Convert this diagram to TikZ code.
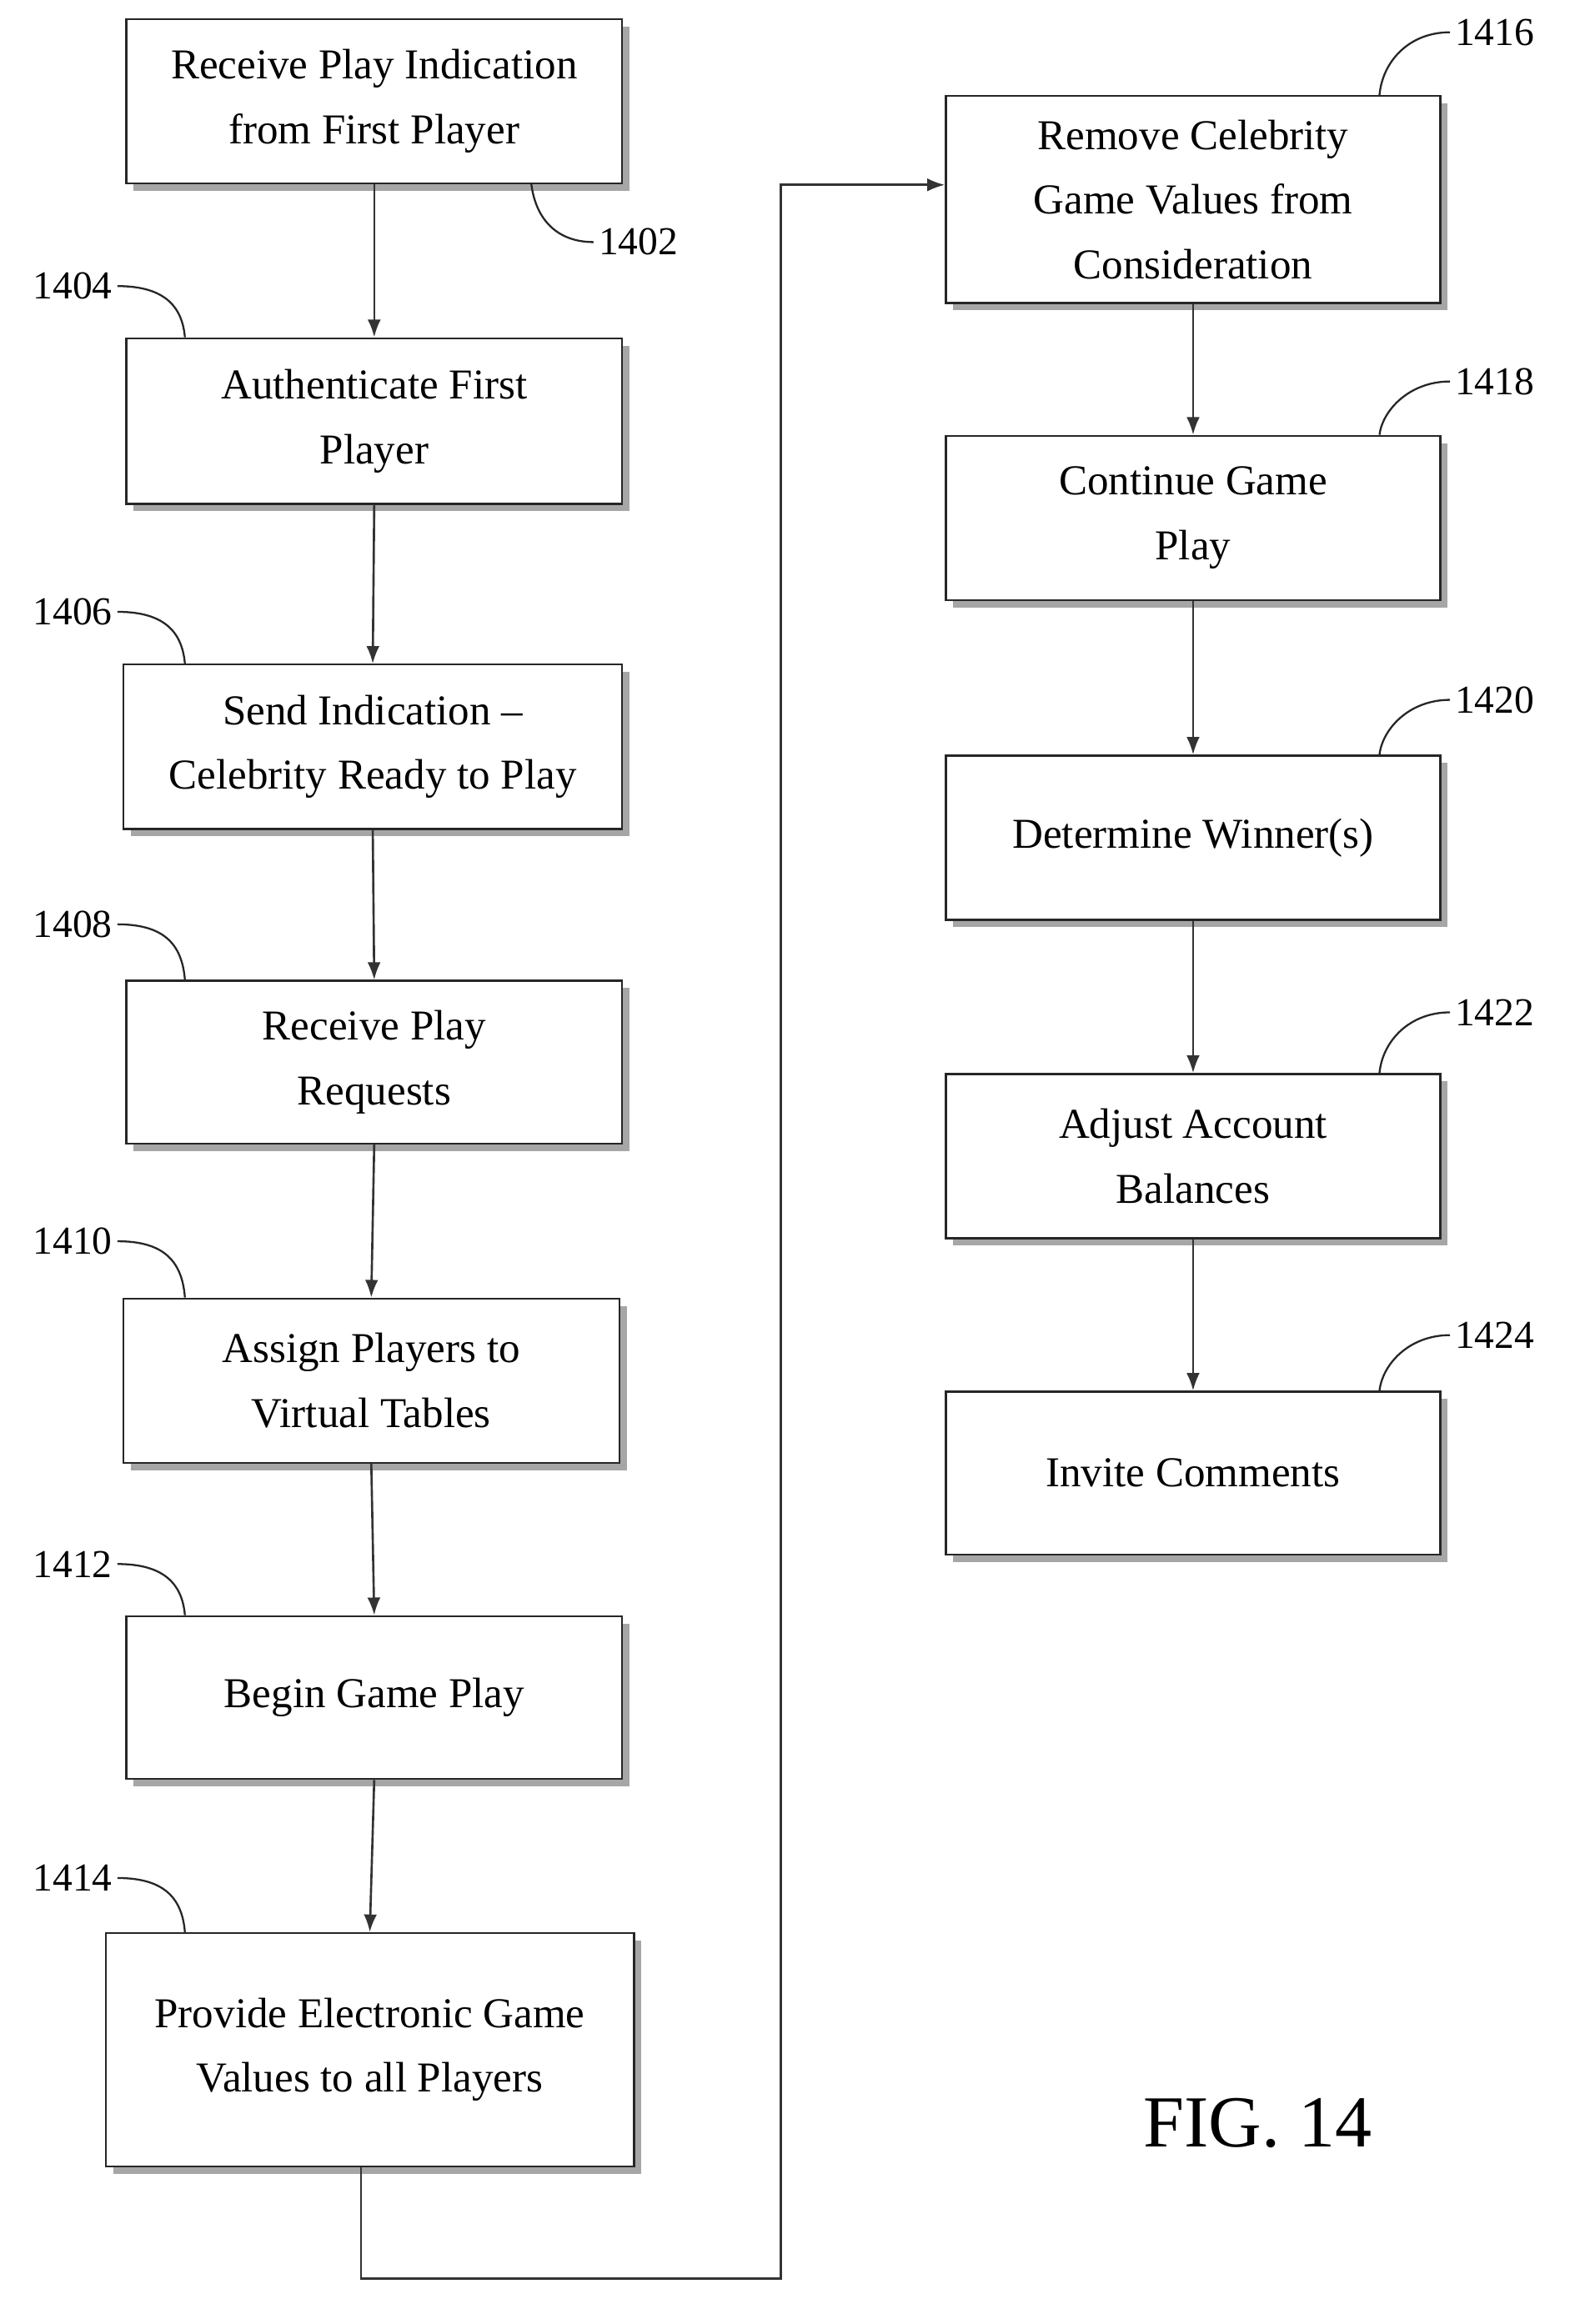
\documentclass[tikz,border=0pt]{standalone}
\usepackage{fontspec}
\setmainfont{Liberation Serif}
\usetikzlibrary{shadows,arrows.meta}
\begin{document}
\begin{tikzpicture}[x=1pt,y=-1pt,
 box/.style={draw=black!85,line width=1.3pt,fill=white,align=center,font=\fontsize{29}{44}\selectfont,
   drop shadow={shadow xshift=5pt,shadow yshift=-5pt,fill=black!35,opacity=1},inner sep=0pt},
 arr/.style={line width=1.5pt,black!80,-{Latex[length=12pt,width=9pt]}},
 lab/.style={font=\fontsize{27}{30}\selectfont},
 cur/.style={line width=1.3pt,black!85}]
\useasboundingbox (0,0) rectangle (1080,1584);
\newcommand\bx[6]{\node[box,minimum width=#3,minimum height=#4] (#1) at (#2) {#5};}
\bx{b02}{255,69}{338}{112}{Receive Play Indication\\from First Player}{}
\bx{b04}{255,287}{338}{113}{Authenticate First\\Player}{}
\bx{b06}{254,509}{340}{112}{Send Indication --\\Celebrity Ready to Play}{}
\bx{b08}{255,724}{338}{111}{Receive Play\\Requests}{}
\bx{b10}{253,941}{338}{112}{Assign Players to\\Virtual Tables}{}
\bx{b12}{255,1157}{338}{111}{Begin Game Play}{}
\bx{b14}{252,1397}{360}{159}{Provide Electronic Game\\Values to all Players}{}
\bx{b16}{813,136}{337}{141}{Remove Celebrity\\Game Values from\\Consideration}{}
\bx{b18}{813,353}{337}{112}{Continue Game\\Play}{}
\bx{b20}{813,571}{337}{112}{Determine Winner(s)}{}
\bx{b22}{813,788}{337}{112}{Adjust Account\\Balances}{}
\bx{b24}{813,1004}{337}{111}{Invite Comments}{}
\foreach \a/\b in {b02/b04,b04/b06,b06/b08,b08/b10,b10/b12,b12/b14,b16/b18,b18/b20,b20/b22,b22/b24}
  \draw[arr] (\a.south) -- (\b.north);
\coordinate (c1) at (246,1553); \coordinate (c2) at (532,1553); \coordinate (c3) at (532,126);
\draw[arr] (b14.south -| c1) -- (c1) -- (c2) -- (c3) -- (b16.west |- c3);
\coordinate (xl) at (126,0); \coordinate (xr) at (940,0);
% labels
\node[lab] (l02) at (435,165) {1402};
\draw[cur] (362,125) .. controls (365,150) and (380,165) .. (l02.west);
\foreach \n/\y/\b in {1404/195/b04,1406/417/b06,1408/630/b08,1410/846/b10,1412/1066/b12,1414/1280/b14}{
  \node[lab,anchor=east] (l\n) at (80,\y) {\n};
  \draw[cur] (l\n.east) .. controls (110,\y) and (124,\y+12) .. (xl |- \b.north);
}
\foreach \n/\y/\b in {1416/22/b16,1418/260/b18,1420/477/b20,1422/690/b22,1424/910/b24}{
  \node[lab,anchor=west] (l\n) at (988,\y) {\n};
  \draw[cur] (xr |- \b.north) .. controls (942,\y+20) and (960,\y) .. (l\n.west);
}
\node[font=\fontsize{50}{55}\selectfont] (fig) at (857,1447) {FIG. 14};
\end{tikzpicture}
\end{document}
